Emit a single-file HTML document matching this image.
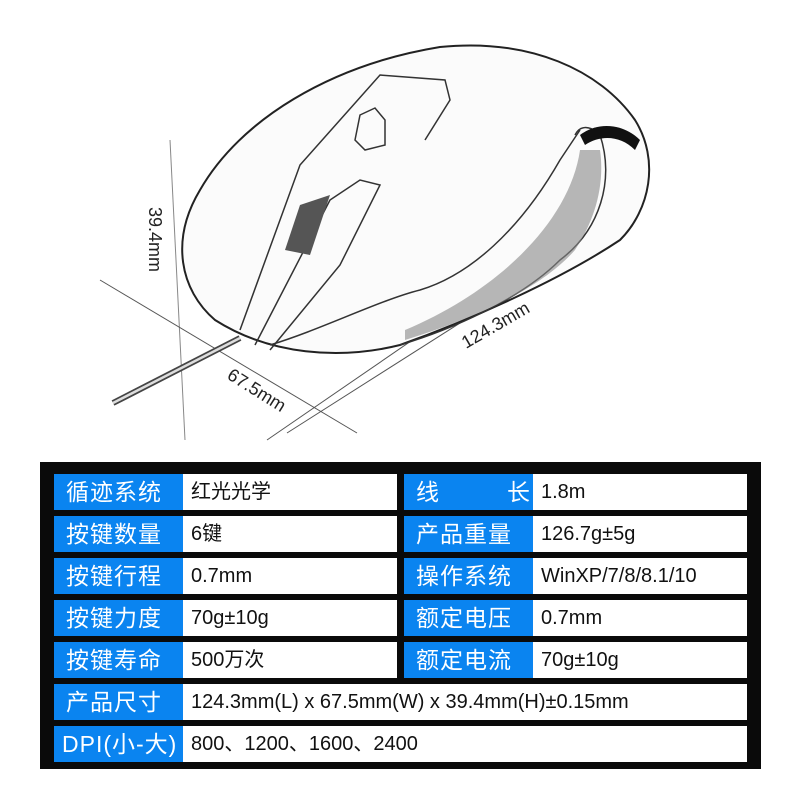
<!DOCTYPE html>
<html><head><meta charset="utf-8"><style>
body{margin:0;width:800px;height:800px;background:#fff;position:relative;overflow:hidden;font-family:"Liberation Sans","Noto Sans CJK SC",sans-serif}
.box{position:absolute;left:40px;top:462px;width:721px;height:307px;background:#0a0a0a}
.c{position:absolute;height:36px;line-height:36px;box-sizing:border-box}
.l{background:#0a84f0;color:#fff;font-size:23px;padding-left:12px;letter-spacing:1px}
.v{background:#fff;color:#111;font-size:20px;padding-left:8px}
</style></head><body>
<svg width="800" height="460" style="position:absolute;left:0;top:0">
<g fill="none" stroke="#333" stroke-width="1">
<line x1="170" y1="140" x2="185" y2="440" stroke="#888"/>
<line x1="100" y1="280" x2="357" y2="433" stroke="#555"/>
<line x1="622" y1="196" x2="267" y2="440" stroke="#555"/>
<line x1="622" y1="220" x2="287" y2="433" stroke="#555"/>
</g>
<g fill="#fbfbfb" stroke="#222" stroke-width="2">
<path d="M215 320 C180 290 170 240 200 190 C240 120 330 65 440 47 C530 38 600 70 635 120 C660 160 650 210 620 240 C560 280 470 320 400 345 C340 360 270 355 215 320 Z"/>
</g>
<g fill="none" stroke="#333" stroke-width="1.5">
<path d="M240 330 L300 165 L380 75 L445 80 L450 100 L425 140"/>
<path d="M255 345 L330 200 L360 180 L380 185 L340 265 L270 350"/>
<path d="M360 115 L375 108 L385 120 L385 145 L365 150 L355 140 Z"/>
<path d="M270 345 C320 330 380 300 420 290 C470 275 520 230 560 160 L580 130"/>
<path d="M400 345 C450 330 520 300 560 260 C600 230 615 180 600 135 C590 125 580 125 575 135"/>
</g>
<path d="M300 205 L330 195 L310 255 L285 250 Z" fill="#555"/>
<path d="M580 135 C600 120 625 125 640 140 L635 150 C620 135 600 135 585 145 Z" fill="#111"/>
<path d="M405 340 C470 320 540 290 575 250 C595 220 605 185 600 150 L580 150 C570 220 500 290 405 330 Z" fill="#888" opacity="0.6"/>
<path d="M240 338 L113 403" stroke="#444" stroke-width="6" fill="none"/>
<path d="M240 338 L113 403" stroke="#ddd" stroke-width="2.5" fill="none"/>
<g font-size="18" fill="#222" font-family="Liberation Sans,sans-serif">
<text transform="translate(149,207) rotate(90)">39.4mm</text>
<text transform="translate(226,378) rotate(32)">67.5mm</text>
<text transform="translate(466,349) rotate(-30)">124.3mm</text>
</g>
</svg>
<div class="box"></div>
<div class="c l" style="left:54px;top:474px;width:129px">循迹系统</div><div class="c v" style="left:183px;top:474px;width:214px">红光光学</div>
<div class="c l" style="left:404px;top:474px;width:129px">线<span style="display:inline-block;width:67px"></span>长</div><div class="c v" style="left:533px;top:474px;width:214px">1.8m</div>
<div class="c l" style="left:54px;top:516px;width:129px">按键数量</div><div class="c v" style="left:183px;top:516px;width:214px">6键</div>
<div class="c l" style="left:404px;top:516px;width:129px">产品重量</div><div class="c v" style="left:533px;top:516px;width:214px">126.7g±5g</div>
<div class="c l" style="left:54px;top:558px;width:129px">按键行程</div><div class="c v" style="left:183px;top:558px;width:214px">0.7mm</div>
<div class="c l" style="left:404px;top:558px;width:129px">操作系统</div><div class="c v" style="left:533px;top:558px;width:214px">WinXP/7/8/8.1/10</div>
<div class="c l" style="left:54px;top:600px;width:129px">按键力度</div><div class="c v" style="left:183px;top:600px;width:214px">70g±10g</div>
<div class="c l" style="left:404px;top:600px;width:129px">额定电压</div><div class="c v" style="left:533px;top:600px;width:214px">0.7mm</div>
<div class="c l" style="left:54px;top:642px;width:129px">按键寿命</div><div class="c v" style="left:183px;top:642px;width:214px">500万次</div>
<div class="c l" style="left:404px;top:642px;width:129px">额定电流</div><div class="c v" style="left:533px;top:642px;width:214px">70g±10g</div>
<div class="c l" style="left:54px;top:684px;width:129px">产品尺寸</div><div class="c v" style="left:183px;top:684px;width:564px">124.3mm(L) x 67.5mm(W) x 39.4mm(H)±0.15mm</div>
<div class="c l" style="left:54px;top:726px;width:129px;padding-left:8px">DPI(小-大)</div><div class="c v" style="left:183px;top:726px;width:564px">800、1200、1600、2400</div>
</body></html>
